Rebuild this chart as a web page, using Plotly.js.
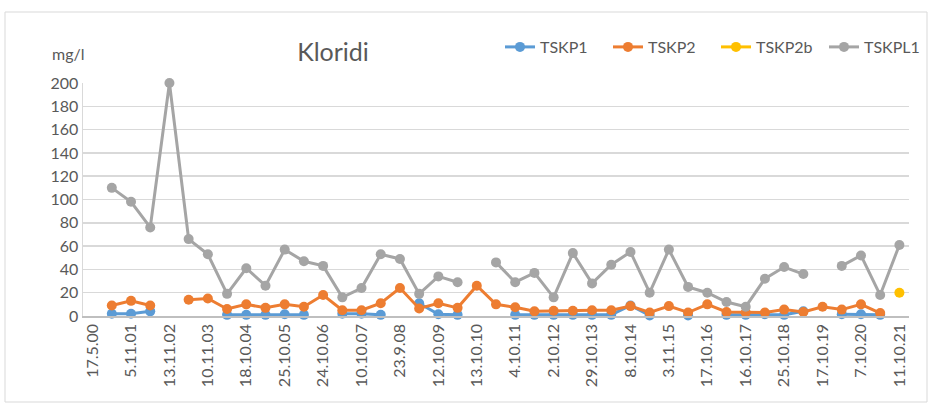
<!DOCTYPE html>
<html>
<head>
<meta charset="utf-8">
<script src="https://cdn.plot.ly/plotly-3.0.1.min.js"></script>
<style>
    html, body { margin: 0; padding: 0; background: #fff; }
    #chart { width: 931px; height: 405px; }
</style>
</head>
<body>
<div id="chart"></div>
<script>
// --- DATA ---
// one slot per sampling date, labels shown on every second slot (like Excel did)
const tickLabels = ['17.5.00', '5.11.01', '13.11.02', '10.11.03', '18.10.04', '25.10.05',
    '24.10.06', '10.10.07', '23.9.08', '12.10.09', '13.10.10', '4.10.11', '2.10.12',
    '29.10.13', '8.10.14', '3.11.15', '17.10.16', '16.10.17', '25.10.18', '17.10.19',
    '7.10.20', '11.10.21'];

const tskp1 = [null, 2, 2, 4, null, null, null, 1, 1, 1, 1.5, 1, null, 2, 2, 1, null, 11, 1.5, 1,
    null, null, 1, 1, 1, 1, 1, 1, 9, 0.5, null, 0.5, null, 1, 1, 1.5, 1, 4, null, 1.5, 1.5, 1, null];

const tskp2 = [null, 9, 13, 9, null, 14, 15, 6, 10, 7, 10, 8, 18, 5, 5, 11, 24, 6.5, 11, 7,
    26, 10, 7.5, 4, 4.5, 4.5, 5, 5, 8.5, 3, 8.5, 3, 10, 3.5, 3, 3, 5.5, 3.5, 8, 5.5, 10, 2.5, null];

const tskp2b = [null, null, null, null, null, null, null, null, null, null, null, null, null, null,
    null, null, null, null, null, null, null, null, null, null, null, null, null, null, null, null,
    null, null, null, null, null, null, null, null, null, null, null, null, 20];

const tskpl1 = [null, 110, 98, 76, 200, 66, 53, 19, 41, 26, 57, 47, 43, 16, 24, 53, 49, 19, 34, 29,
    null, 46, 29, 37, 16, 54, 28, 44, 55, 20, 57, 25, 20, 12, 8, 32, 42, 36, null, 43, 52, 18, 61];

// --- LAYOUT HELPERS ---
const W = 931, H = 405;
const M = { l: 83, r: 22, t: 83, b: 89, autoexpand: false };
const plotW = W - M.l - M.r;
const plotH = H - M.t - M.b;
const px2x = px => (px - M.l) / plotW;
const px2y = py => (H - M.b - py) / plotH;

const slots = tskpl1.map((_, i) => i);
const tickVals = tickLabels.map((_, i) => i * 2);

const FONT = 'Lato, "Open Sans", "Liberation Sans", sans-serif';
const TEXT = '#595959';

function series(name, values, color) {
    return {
        x: slots,
        y: values,
        name: name,
        type: 'scatter',
        mode: 'lines+markers',
        connectgaps: false,
        cliponaxis: false,
        line: { color: color, width: 3 },
        marker: { color: color, size: 10 },
    };
}

const traces = [
    series('TSKP1', tskp1, '#5b9bd5'),
    series('TSKP2', tskp2, '#ed7d31'),
    series('TSKP2b', tskp2b, '#ffc000'),
    series('TSKPL1', tskpl1, '#a5a5a5'),
];

const layout = {
    width: W,
    height: H,
    margin: M,
    paper_bgcolor: '#fff',
    plot_bgcolor: '#fff',
    font: { family: FONT, color: TEXT, size: 16 },
    showlegend: true,
    title: {
        text: 'Kloridi',
        font: { family: FONT, size: 25, color: TEXT },
        xref: 'container', x: 333 / W, xanchor: 'center',
        yref: 'container', y: 1 - 52 / H, yanchor: 'middle',
    },
    legend: {
        orientation: 'h',
        x: px2x(500), xanchor: 'left',
        y: px2y(47), yanchor: 'middle',
        entrywidth: 63,
        entrywidthmode: 'pixels',
        font: { family: FONT, size: 16, color: TEXT },
        bgcolor: 'rgba(0,0,0,0)',
        traceorder: 'normal',
    },
    xaxis: {
        range: [-0.5, 42.5],
        tickmode: 'array',
        tickvals: tickVals,
        ticktext: tickLabels,
        tickangle: -90,
        tickfont: { family: FONT, size: 16, color: TEXT },
        showgrid: false,
        zeroline: false,
        showline: true,
        linecolor: '#bfbfbf',
        linewidth: 1.5,
        ticks: '',
        fixedrange: true,
    },
    yaxis: {
        range: [0, 200],
        dtick: 20,
        tickfont: { family: FONT, size: 16, color: TEXT },
        gridcolor: '#d9d9d9',
        gridwidth: 1.5,
        zeroline: false,
        showline: true,
        linecolor: '#d9d9d9',
        linewidth: 1.5,
        ticks: '',
        fixedrange: true,
    },
    annotations: [{
        text: 'mg/l',
        xref: 'paper', yref: 'paper',
        x: px2x(68), y: px2y(53),
        xanchor: 'center', yanchor: 'middle',
        showarrow: false,
        font: { family: FONT, size: 16, color: TEXT },
    }],
    shapes: [{
        type: 'rect',
        xref: 'paper', yref: 'paper',
        x0: px2x(5), x1: px2x(927),
        y0: px2y(402), y1: px2y(12),
        line: { color: '#d9d9d9', width: 1 },
        fillcolor: 'rgba(0,0,0,0)',
        layer: 'below',
    }],
};

Plotly.newPlot('chart', traces, layout, { displayModeBar: false, staticPlot: true });
</script>
</body>
</html>
